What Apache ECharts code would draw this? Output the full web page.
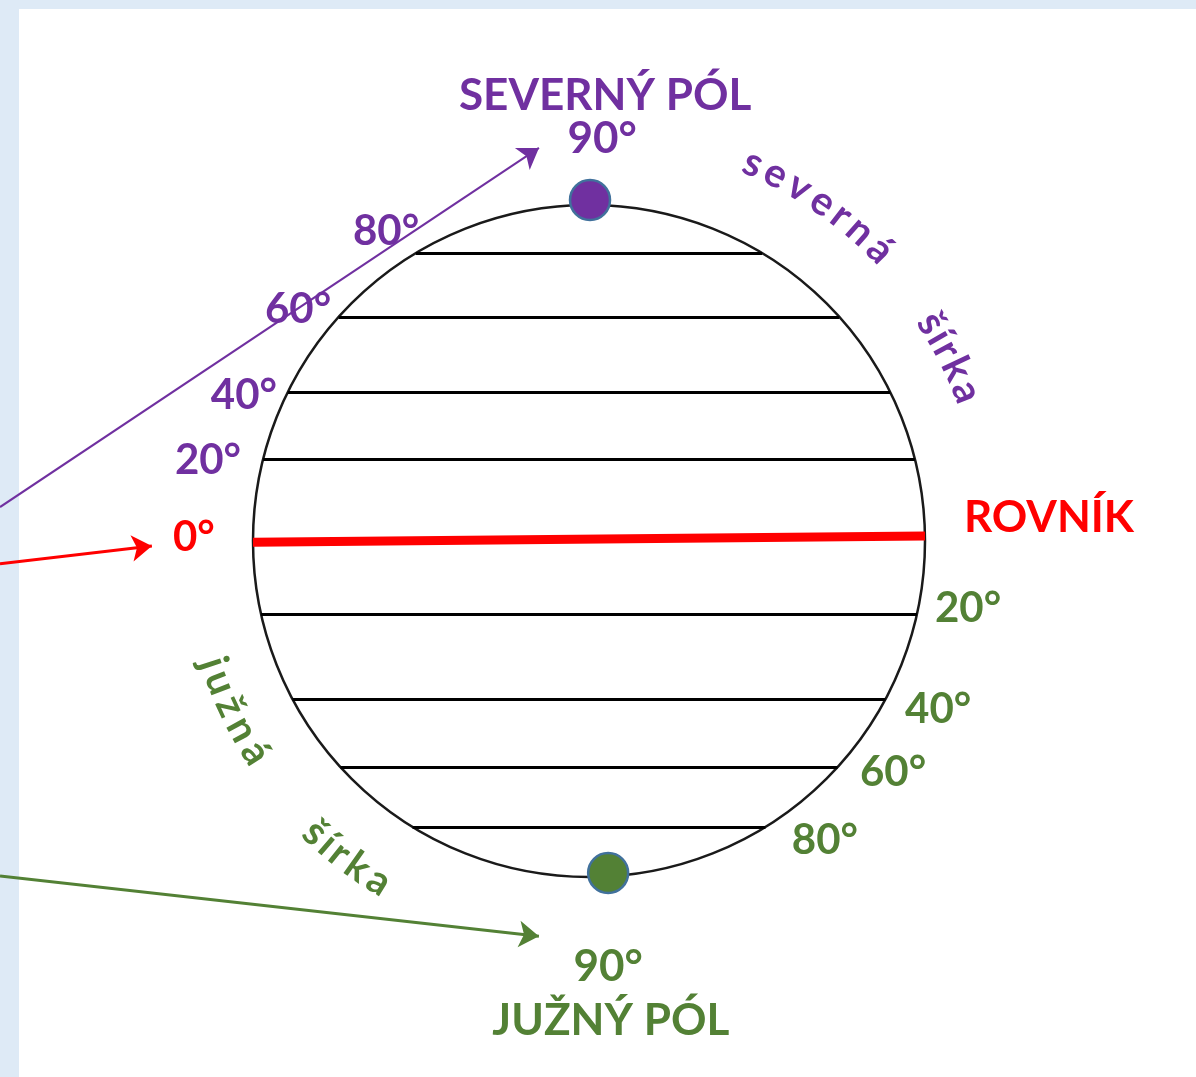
<!DOCTYPE html>
<html>
<head>
<meta charset="utf-8">
<script src="https://cdn.jsdelivr.net/npm/echarts@6/dist/echarts.min.js"></script>
<style>
  html, body { margin: 0; padding: 0; background: #deeaf6; }
  #main { width: 1196px; height: 1077px; }
</style>
</head>
<body>
<div id="main"></div>
<script>
  const purple = '#7030a0';
  const red = '#ff0000';
  const green = '#538135';

  // rovnobežky - výška v jednotkách polomeru (sever +, juh -)
  const latNames = ['80°', '60°', '40°', '20°', '0°', '20°', '40°', '60°', '80°'];
  const latY = [0.857, 0.667, 0.443, 0.244, 0.005, -0.217, -0.470, -0.673, -0.851];
  const latHemi = ['N', 'N', 'N', 'N', 'E', 'S', 'S', 'S', 'S'];
  // rovník je mierne šikmý
  const equatorY = [-0.004, 0.015];
  // kde sedia popisky stupňov
  const latLabelX = [-0.604, -0.866, -1.027, -1.134, -1.176, 1.128, 1.039, 0.905, 0.702];
  const latLabelY = [0.920, 0.688, 0.432, 0.241, 0.012, -0.202, -0.500, -0.690, -0.890];

  // póly
  const poleNames = ['severný pól', 'južný pól'];
  const poleX = [0.003, 0.057];
  const poleY = [1.015, -0.988];

  // šípky
  const arrowFrom = [[-1.753, 0.101], [-1.753, -0.068], [-1.753, -0.997]];
  const arrowTo = [[-0.149, 1.170], [-1.301, -0.015], [-0.149, -1.176]];

  // nadpisy
  const titleTexts = ['SEVERNÝ PÓL', '90°', 'ROVNÍK', '90°', 'JUŽNÝ PÓL'];
  const titleX = [0.048, 0.039, 1.369, 0.057, 0.065];
  const titleY = [1.324, 1.196, 0.068, -1.268, -1.429];

  // zakrivené slová (uhol v stupňoch od osi x, proti smeru hodín)
  const arcTexts = ['severná', 'šírka', 'južná', 'šírka'];
  const arcRadius = [1.226, 1.208, 1.175, 1.19];
  const arcFrom = [66.5, 32.5, 198, 226.8];
  const arcTo = [45, 21.6, 212.4, 238.3];

  const hemiColor = { N: purple, E: red, S: green };
  const FONT = 'Lato, "Open Sans", sans-serif';

  const chart = echarts.init(document.getElementById('main'));

  const panel = {
    type: 'rect', id: 'panel', z: -10, silent: true,
    shape: { x: 19, y: 9, width: 1177, height: 1068 },
    style: { fill: '#ffffff' }
  };

  function halfChord(y) {
    return Math.sqrt(Math.max(0, 1 - y * y));
  }

  const latLines = [];
  latY.forEach(function (y, i) {
    if (latHemi[i] === 'E') return;
    const w = halfChord(y);
    latLines.push({ coords: [[-w, y], [w, y]] });
  });

  const arrowColors = [purple, red, green];
  const arrowWidths = [2, 3, 3];

  const option = {
    backgroundColor: '#deeaf6',
    animation: false,
    graphic: { elements: [panel] },
    polar: { center: [589, 541], radius: 336 },
    angleAxis: {
      type: 'value', min: 0, max: 360,
      axisLine: { show: true, lineStyle: { color: '#1a1a1a', width: 2.5 } },
      axisTick: { show: false }, axisLabel: { show: false }, splitLine: { show: false }
    },
    radiusAxis: { show: false, min: 0, max: 1 },
    grid: { left: 253, top: 205, width: 672, height: 672 },
    xAxis: { type: 'value', min: -1, max: 1, show: false },
    yAxis: { type: 'value', min: -1, max: 1, show: false },
    series: [
      {
        name: 'rovnobežky',
        type: 'lines',
        coordinateSystem: 'cartesian2d',
        clip: false,
        silent: true,
        lineStyle: { color: '#000', width: 3, opacity: 1 },
        data: latLines
      },
      {
        name: 'rovník',
        type: 'lines',
        coordinateSystem: 'cartesian2d',
        clip: false,
        silent: true,
        lineStyle: { color: red, width: 9, opacity: 1 },
        data: [{ coords: [[-1, equatorY[0]], [1, equatorY[1]]] }]
      },
      {
        name: 'šípky',
        type: 'lines',
        coordinateSystem: 'cartesian2d',
        clip: false,
        silent: true,
        z: 5,
        symbol: ['none', 'arrow'],
        symbolSize: 20,
        data: arrowFrom.map(function (p, i) {
          return {
            coords: [p, arrowTo[i]],
            lineStyle: { color: arrowColors[i], width: arrowWidths[i], opacity: 1 }
          };
        })
      },
      {
        name: 'póly',
        type: 'scatter',
        silent: true,
        clip: false,
        z: 6,
        symbolSize: 40,
        data: poleNames.map(function (n, i) {
          return {
            name: n,
            value: [poleX[i], poleY[i]],
            itemStyle: { color: i === 0 ? purple : green, borderColor: '#41719c', borderWidth: 2.5, opacity: 1 }
          };
        })
      },
      {
        name: 'stupne',
        type: 'scatter',
        silent: true,
        clip: false,
        z: 4,
        symbolSize: 1,
        itemStyle: { color: 'rgba(0,0,0,0)', opacity: 1 },
        labelLayout: { hideOverlap: false },
        label: {
          show: true, position: 'inside',
          fontFamily: FONT, fontWeight: 'bold', fontSize: 42,
          formatter: function (p) { return p.name; }
        },
        data: latNames.map(function (n, i) {
          return {
            name: n,
            value: [latLabelX[i], latLabelY[i]],
            label: { color: hemiColor[latHemi[i]] }
          };
        })
      },
      {
        name: 'nadpisy',
        type: 'scatter',
        silent: true,
        clip: false,
        z: 4,
        symbolSize: 1,
        itemStyle: { color: 'rgba(0,0,0,0)', opacity: 1 },
        labelLayout: { hideOverlap: false },
        label: {
          show: true, position: 'inside',
          fontFamily: FONT, fontWeight: 'bold', fontSize: 44,
          formatter: function (p) { return p.name; }
        },
        data: titleTexts.map(function (t, i) {
          const c = i < 2 ? purple : (i === 2 ? red : green);
          return { name: t, value: [titleX[i], titleY[i]], label: { color: c } };
        })
      }
    ]
  };

  chart.setOption(option);

  // písmená po oblúku
  const arcFont = 'bold 40px ' + FONT;
  const ctx = document.createElement('canvas').getContext('2d');
  ctx.font = arcFont;
  const letters = [panel];
  arcTexts.forEach(function (word, k) {
    const chars = Array.from(word);
    const widths = chars.map(function (c) { return ctx.measureText(c).width; });
    const centers = [];
    let acc = 0;
    widths.forEach(function (w) { centers.push(acc + w / 2); acc += w; });
    const first = centers[0];
    const span = centers[centers.length - 1] - first;
    const outward = arcFrom[k] < 180;
    chars.forEach(function (c, i) {
      const t = (centers[i] - first) / span;
      const ang = (arcFrom[k] + (arcTo[k] - arcFrom[k]) * t) * Math.PI / 180;
      const p = chart.convertToPixel({ gridIndex: 0 },
        [arcRadius[k] * Math.cos(ang), arcRadius[k] * Math.sin(ang)]);
      letters.push({
        type: 'text',
        id: 'arc' + k + '_' + i,
        x: p[0], y: p[1],
        rotation: outward ? ang - Math.PI / 2 : ang + Math.PI / 2,
        z: 20,
        silent: true,
        style: {
          text: c, fill: k < 2 ? purple : green, font: arcFont,
          textAlign: 'center', textVerticalAlign: 'middle',
          align: 'center', verticalAlign: 'middle'
        }
      });
    });
  });
  chart.setOption({ graphic: { elements: letters } });

  window.addEventListener('resize', function () {
    chart.resize();
  });
</script>
</body>
</html>
